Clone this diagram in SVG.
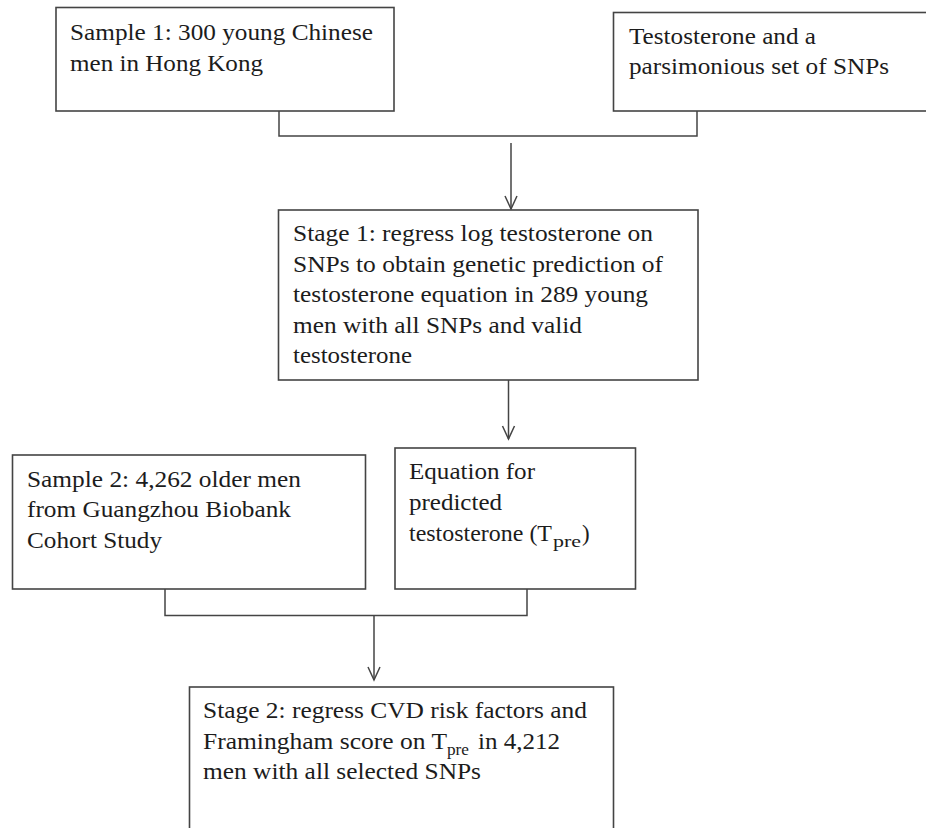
<svg xmlns="http://www.w3.org/2000/svg" width="926" height="828" viewBox="0 0 926 828">
<style>
.box{fill:#fff;stroke:#444;stroke-width:1.6}
.t{font-size:23px;fill:#1c1c1c}
.s{font-size:16px;fill:#1c1c1c}
.c{fill:none;stroke:#444;stroke-width:1.5}
</style>
<defs>
<marker id="arr" viewBox="-14 -8 16 16" refX="0" refY="0" markerWidth="16" markerHeight="16" markerUnits="userSpaceOnUse" orient="auto">
<path d="M-13,-6 L0,0 L-13,6" fill="none" stroke="#444" stroke-width="1.5"/>
</marker>
</defs>
<rect width="926" height="828" fill="#fff"/>
<g id="connectors">
<path class="c" d="M279,111 V136 H697 V111"/>
<path class="c" d="M511,143 V209" marker-end="url(#arr)"/>
<path class="c" d="M508.5,380 V439" marker-end="url(#arr)"/>
<path class="c" d="M165,589 V615.5 H527 V589"/>
<path class="c" d="M374,616 V680" marker-end="url(#arr)"/>
</g>
<g font-family="Liberation Serif, Times New Roman, Times, serif">
<g id="sample1">
<rect class="box" x="56" y="7.5" width="338" height="103.5"/>
<text class="t" x="70" y="40" textLength="303" lengthAdjust="spacingAndGlyphs">Sample 1: 300 young Chinese</text>
<text class="t" x="70" y="71" textLength="193" lengthAdjust="spacingAndGlyphs">men in Hong Kong</text>
</g>
<g id="testosterone">
<rect class="box" x="613.5" y="12.5" width="330" height="98.5"/>
<text class="t" x="629" y="44" textLength="187" lengthAdjust="spacingAndGlyphs">Testosterone and a</text>
<text class="t" x="629" y="74" textLength="260" lengthAdjust="spacingAndGlyphs">parsimonious set of SNPs</text>
</g>
<g id="stage1">
<rect class="box" x="278.5" y="210" width="419.5" height="170"/>
<text class="t" x="293" y="241" textLength="360" lengthAdjust="spacingAndGlyphs">Stage 1: regress log testosterone on</text>
<text class="t" x="293" y="272" textLength="370" lengthAdjust="spacingAndGlyphs">SNPs to obtain genetic prediction of</text>
<text class="t" x="293" y="302" textLength="355" lengthAdjust="spacingAndGlyphs">testosterone equation in 289 young</text>
<text class="t" x="293" y="333" textLength="289" lengthAdjust="spacingAndGlyphs">men with all SNPs and valid</text>
<text class="t" x="293" y="363" textLength="119" lengthAdjust="spacingAndGlyphs">testosterone</text>
</g>
<g id="sample2">
<rect class="box" x="12.5" y="455" width="353" height="134"/>
<text class="t" x="27" y="487" textLength="274" lengthAdjust="spacingAndGlyphs">Sample 2: 4,262 older men</text>
<text class="t" x="27" y="517" textLength="264" lengthAdjust="spacingAndGlyphs">from Guangzhou Biobank</text>
<text class="t" x="27" y="548" textLength="135" lengthAdjust="spacingAndGlyphs">Cohort Study</text>
</g>
<g id="equation">
<rect class="box" x="395" y="448" width="240.5" height="141"/>
<text class="t" x="409" y="479" textLength="126" lengthAdjust="spacingAndGlyphs">Equation for</text>
<text class="t" x="409" y="510" textLength="93" lengthAdjust="spacingAndGlyphs">predicted</text>
<text class="t" x="409" y="541" textLength="143" lengthAdjust="spacingAndGlyphs">testosterone (T</text>
<text class="s" x="553" y="547" textLength="28" lengthAdjust="spacingAndGlyphs">pre</text>
<text class="t" x="582" y="541">)</text>
</g>
<g id="stage2">
<rect class="box" x="189.5" y="687" width="424" height="170"/>
<text class="t" x="203" y="718" textLength="384" lengthAdjust="spacingAndGlyphs">Stage 2: regress CVD risk factors and</text>
<text class="t" x="203" y="749" textLength="244" lengthAdjust="spacingAndGlyphs">Framingham score on T</text>
<text class="s" x="447" y="755" textLength="22" lengthAdjust="spacingAndGlyphs">pre</text>
<text class="t" x="478" y="749" textLength="82" lengthAdjust="spacingAndGlyphs">in 4,212</text>
<text class="t" x="203" y="779" textLength="278" lengthAdjust="spacingAndGlyphs">men with all selected SNPs</text>
</g>
</g>
</svg>
